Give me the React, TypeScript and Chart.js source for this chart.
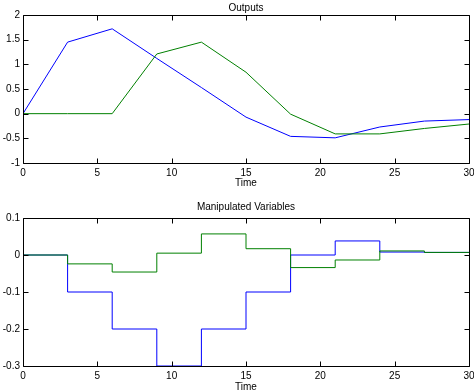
import React, { useEffect, useRef } from "react";
import { Chart, registerables } from "chart.js";
Chart.register(...registerables);

const times = [0, 3, 6, 9, 12, 15, 18, 21, 24, 27, 30];
const outputBlue = [0, 1.45, 1.72, 1.12, 0.53, -0.07, -0.46, -0.49, -0.27, -0.15, -0.12];
const outputGreen = [0, 0, 0, 1.21, 1.45, 0.84, -0.01, -0.41, -0.41, -0.3, -0.21];
const mvBlue = [0, -0.1, -0.2, -0.3, -0.2, -0.1, 0, 0.038, 0.008, 0.007, 0.007];
const mvGreen = [0, -0.024, -0.046, 0.005, 0.057, 0.017, -0.034, -0.0135, 0.011, 0.007, 0.007];
const xTicks = [0, 5, 10, 15, 20, 25, 30];
const yTicksTop = [-1, -0.5, 0, 0.5, 1, 1.5, 2];
const yTicksBottom = [-0.3, -0.2, -0.1, 0, 0.1];
const topTitle = "Outputs";
const bottomTitle = "Manipulated Variables";
const xLabel = "Time";

const FONT = "'Liberation Sans', Arial, Helvetica, sans-serif";

const boxPlugin = {
  id: "matlabBox",
  afterDraw(chart: any, _args: any, opts: any) {
    const ctx = chart.ctx;
    const a = chart.chartArea;
    const xs = chart.scales.x;
    const ys = chart.scales.y;
    ctx.save();
    ctx.strokeStyle = "#000";
    ctx.lineWidth = 1;
    const L = Math.round(a.left) + 0.5;
    const R = Math.round(a.right) + 0.5;
    const T = Math.round(a.top) + 0.5;
    const B = Math.round(a.bottom) + 0.5;
    ctx.beginPath();
    ctx.rect(L, T, R - L, B - T);
    const tl = 5;
    xs.ticks.forEach((t: any) => {
      const px = Math.round(xs.getPixelForValue(t.value)) + 0.5;
      ctx.moveTo(px, B);
      ctx.lineTo(px, B - tl);
      ctx.moveTo(px, T);
      ctx.lineTo(px, T + tl);
    });
    ys.ticks.forEach((t: any) => {
      const py = Math.round(ys.getPixelForValue(t.value)) + 0.5;
      ctx.moveTo(L, py);
      ctx.lineTo(L + tl, py);
      ctx.moveTo(R, py);
      ctx.lineTo(R - tl, py);
    });
    ctx.stroke();
    ctx.fillStyle = "#000";
    ctx.font = "10px " + FONT;
    ctx.textAlign = "center";
    ctx.textBaseline = "middle";
    const cx = (a.left + a.right) / 2;
    ctx.fillText(opts.title, cx, opts.titleY);
    ctx.fillText(opts.xlabel, cx, opts.xlabelY);
    ctx.restore();
  },
};

function makeConfig(
  blue: number[],
  green: number[],
  yTicks: number[],
  stepped: boolean,
  pad: { top: number; xh: number },
  title: string,
  titleY: number,
  xlabelY: number
): any {
  const toPts = (v: number[]) => times.map((t, i) => ({ x: t, y: v[i] }));
  return {
    type: "line",
    data: {
      datasets: [
        {
          data: toPts(green),
          borderColor: "#008000",
          borderWidth: 1,
          pointRadius: 0,
          stepped: stepped ? "before" : false,
          tension: 0,
          order: 0,
        },
        {
          data: toPts(blue),
          borderColor: "#0000ff",
          borderWidth: 1,
          pointRadius: 0,
          stepped: stepped ? "before" : false,
          tension: 0,
          order: 1,
        },
      ],
    },
    options: {
      animation: false,
      responsive: false,
      maintainAspectRatio: false,
      layout: { padding: { top: pad.top, right: 5, left: 0, bottom: 0 } },
      plugins: {
        legend: { display: false },
        tooltip: { enabled: false },
        title: { display: false },
        matlabBox: { title, titleY, xlabel: xLabel, xlabelY },
      },
      scales: {
        x: {
          type: "linear",
          min: xTicks[0],
          max: xTicks[xTicks.length - 1],
          afterBuildTicks: (s: any) => {
            s.ticks = xTicks.map((v) => ({ value: v }));
          },
          afterFit: (s: any) => {
            s.height = pad.xh;
            s.paddingLeft = 0;
            s.paddingRight = 0;
          },
          grid: { display: false, drawTicks: false },
          border: { display: false },
          ticks: {
            color: "#000",
            font: { family: FONT, size: 10 },
            padding: 4,
            maxRotation: 0,
            autoSkip: false,
            callback: (v: any) => String(v),
          },
        },
        y: {
          type: "linear",
          min: yTicks[0],
          max: yTicks[yTicks.length - 1],
          afterBuildTicks: (s: any) => {
            s.ticks = yTicks.map((v) => ({ value: v }));
          },
          afterFit: (s: any) => {
            s.width = 23;
            s.paddingTop = 0;
            s.paddingBottom = 0;
          },
          grid: { display: false, drawTicks: false },
          border: { display: false },
          ticks: {
            color: "#000",
            font: { family: FONT, size: 10 },
            padding: 3,
            autoSkip: false,
            callback: (v: any) => String(Number(Number(v).toFixed(2))),
          },
        },
      },
    },
    plugins: [boxPlugin],
  };
}

export default function App() {
  const topRef = useRef<HTMLCanvasElement>(null);
  const botRef = useRef<HTMLCanvasElement>(null);
  useEffect(() => {
    document.body.style.margin = "0";
    const c1 = new Chart(
      topRef.current!,
      makeConfig(outputBlue, outputGreen, yTicksTop, false, { top: 15, xh: 32 }, topTitle, 8, 183)
    );
    const c2 = new Chart(
      botRef.current!,
      makeConfig(mvBlue, mvGreen, yTicksBottom, true, { top: 23, xh: 25 }, bottomTitle, 12, 192)
    );
    return () => {
      c1.destroy();
      c2.destroy();
    };
  }, []);
  return (
    <div style={{ position: "relative", width: 474, height: 391, background: "#fff" }}>
      <canvas ref={topRef} width={474} height={195} style={{ position: "absolute", left: 0, top: 0, width: 474, height: 195 }} />
      <canvas ref={botRef} width={474} height={196} style={{ position: "absolute", left: 0, top: 195, width: 474, height: 196 }} />
    </div>
  );
}
